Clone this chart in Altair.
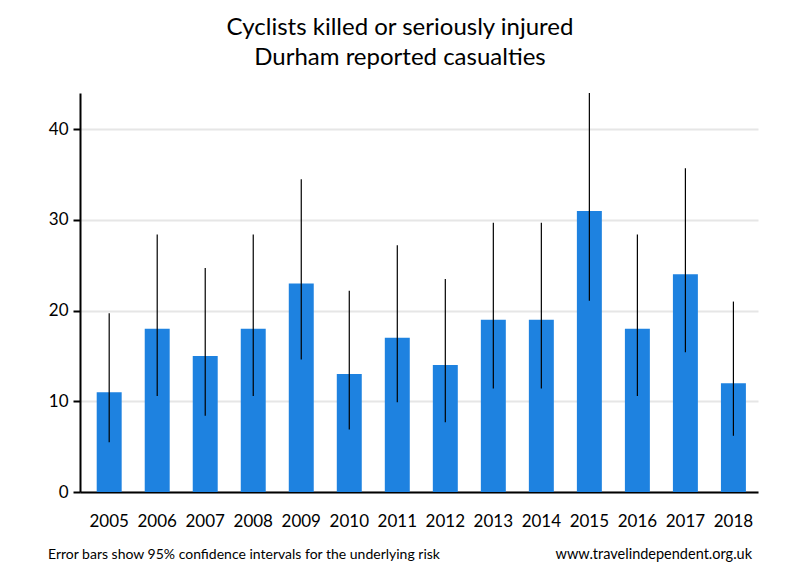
import altair as alt
import pandas as pd

years = ["2005", "2006", "2007", "2008", "2009", "2010", "2011",
         "2012", "2013", "2014", "2015", "2016", "2017", "2018"]
values = [11, 18, 15, 18, 23, 13, 17, 14, 19, 19, 31, 18, 24, 12]
lower = [5.5, 10.6, 8.4, 10.6, 14.6, 6.9, 9.9, 7.7, 11.4, 11.4, 21.1, 10.6, 15.4, 6.2]
upper = [19.7, 28.4, 24.7, 28.4, 34.5, 22.2, 27.2, 23.5, 29.7, 29.7, 44.0, 28.4, 35.7, 21.0]

title_lines = ["Cyclists killed or seriously injured", "Durham reported casualties"]
note_left = "Error bars show 95% confidence intervals for the underlying risk"
note_right = "www.travelindependent.org.uk"

FONT = "Lato"

df = pd.DataFrame({"year": years, "value": values, "lo": lower, "hi": upper})

x_enc = alt.X("year:N", sort=years, title=None,
              scale=alt.Scale(paddingInner=0.48, paddingOuter=0.3, align=0.58),
              axis=alt.Axis(labelAngle=0, labelFont=FONT, labelFontSize=17,
                            labelColor="black", ticks=False, tickSize=0,
                            labelPadding=21, domainColor="black", domainWidth=2,
                            grid=False))

y_scale = alt.Scale(domain=[0, 44], nice=False)

bars = alt.Chart(df).mark_bar(color="#1E82E0").encode(
    x=x_enc,
    y=alt.Y("value:Q", scale=y_scale, title=None,
            axis=alt.Axis(values=[0, 10, 20, 30, 40], labelFont=FONT,
                          labelFontSize=17, labelColor="black",
                          tickSize=7, tickWidth=2, tickColor="black",
                          labelPadding=5, domainColor="black", domainWidth=2,
                          gridColor="#E6E6E6", gridWidth=2)),
)

errs = alt.Chart(df).mark_rule(color="black", strokeWidth=1.2).encode(
    x=alt.X("year:N", sort=years),
    y=alt.Y("lo:Q", scale=y_scale),
    y2="hi:Q",
)

foot_l = alt.Chart(pd.DataFrame({"t": [note_left]})).mark_text(
    font=FONT, fontSize=14, align="left", baseline="alphabetic", color="black"
).encode(x=alt.value(-32), y=alt.value(466), text="t:N")

foot_r = alt.Chart(pd.DataFrame({"t": [note_right]})).mark_text(
    font=FONT, fontSize=14.5, align="right", baseline="alphabetic", color="black"
).encode(x=alt.value(672), y=alt.value(466), text="t:N")

chart = alt.layer(bars, errs, foot_l, foot_r).properties(
    width=678, height=399,
    title=alt.TitleParams(text=title_lines, font=FONT, fontSize=24,
                          fontWeight="normal", color="black", anchor="middle",
                          dx=-19, lineHeight=30, offset=22),
    padding={"left": 72, "top": 85, "right": 34, "bottom": 80},
    autosize="none",
).configure_view(stroke=None)

chart.save("out.html", embed_options={"renderer": "svg", "actions": False})
